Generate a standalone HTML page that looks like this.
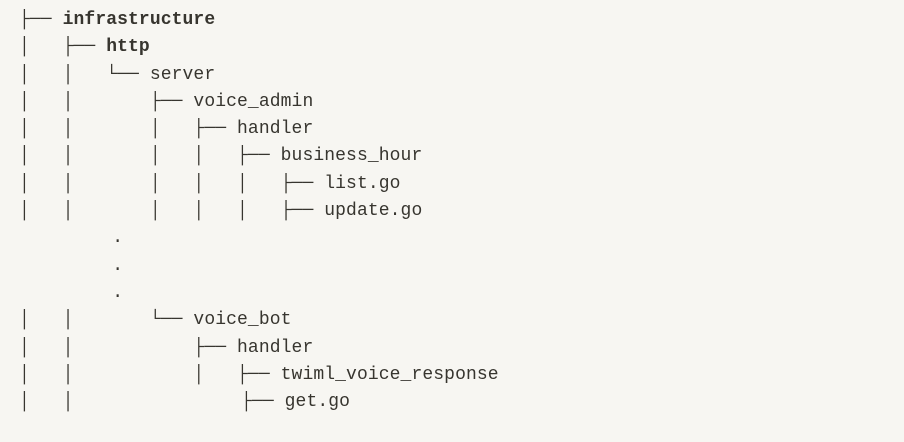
<!DOCTYPE html>
<html><head><meta charset="utf-8"><style>
html,body{margin:0;padding:0;background:#f7f6f2;width:904px;height:442px;overflow:hidden}
pre{margin:0;position:absolute;left:19px;top:7px;font-family:"Liberation Mono","DejaVu Sans Mono",monospace;font-size:18px;line-height:27.3px;color:#37352f;letter-spacing:0.1px}
b{font-weight:bold}
</style></head><body>
<pre>├── <b>infrastructure</b>
│   ├── <b>http</b>
│   │   └── server
│   │       ├── voice_admin
│   │       │   ├── handler
│   │       │   │   ├── business_hour
│   │       │   │   │   ├── list.go
│   │       │   │   │   ├── update.go
        <span style="margin-left:6px">.</span>
        <span style="margin-left:6px">.</span>
        <span style="margin-left:6px">.</span>
│   │       └── voice_bot
│   │           ├── handler
│   │           │   ├── twiml_voice_response
│   │               <span style="margin-left:4px">├── get.go</span></pre>
</body></html>
